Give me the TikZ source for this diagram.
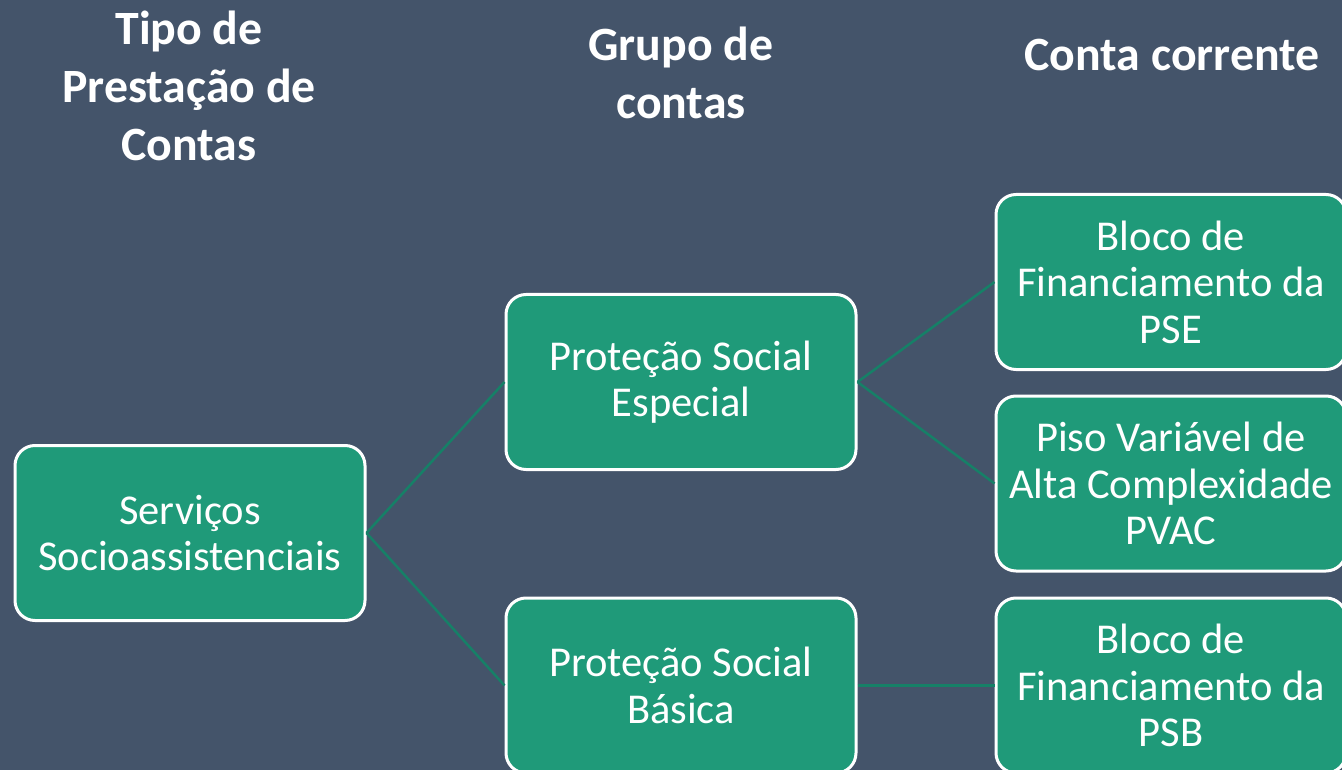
\documentclass[tikz,border=0pt]{standalone}
\usepackage{fontspec}
\setmainfont{Carlito}
\definecolor{bgcol}{HTML}{44546A}
\definecolor{boxfill}{HTML}{1F9A79}
\definecolor{linkcol}{HTML}{168067}
\begin{document}
\begin{tikzpicture}[x=1pt,y=-1pt,
  box/.style={draw=white, line width=3pt, fill=boxfill, rounded corners=20pt,
    minimum width=350pt, minimum height=175pt, text=white, align=center,
    font=\fontsize{42.5}{46.5}\selectfont, inner sep=0pt},
  head/.style={text=white, align=center, font=\fontsize{47.8}{58}\selectfont\bfseries},
  link/.style={draw=linkcol, line width=2.5pt}]
\fill[bgcol] (0,0) rectangle (1342,770);
\useasboundingbox (0,0) rectangle (1342,770);
\begin{scope}
\clip (0,0) rectangle (1342,770);
\node[head] (h1) at (189,86) {Tipo de\\Prestação de\\Contas};
\node[head] (h2) at (681,73) {Grupo de\\contas};
\node[head] (h3) at (1172,55) {Conta corrente};
\node[box] (serv) at (190,533) {Serviços\\Socioassistenciais};
\node[box] (pse) at (681,382) {Proteção Social\\Especial};
\node[box] (psb) at (681,685.5) {Proteção Social\\Básica};
\node[box] (bpse) at (1171,282) {Bloco de\\Financiamento da\\PSE};
\node[box] (pvac) at (1171,483.5) {Piso Variável de\\Alta Complexidade\\PVAC};
\node[box] (bpsb) at (1171,685.5) {Bloco de\\Financiamento da\\PSB};
\draw[link] (serv.east) -- (pse.west);
\draw[link] (serv.east) -- (psb.west);
\draw[link] (pse.east) -- (bpse.west);
\draw[link] (pse.east) -- (pvac.west);
\draw[link] (psb.east) -- (bpsb.west);
\end{scope}
\end{tikzpicture}
\end{document}
